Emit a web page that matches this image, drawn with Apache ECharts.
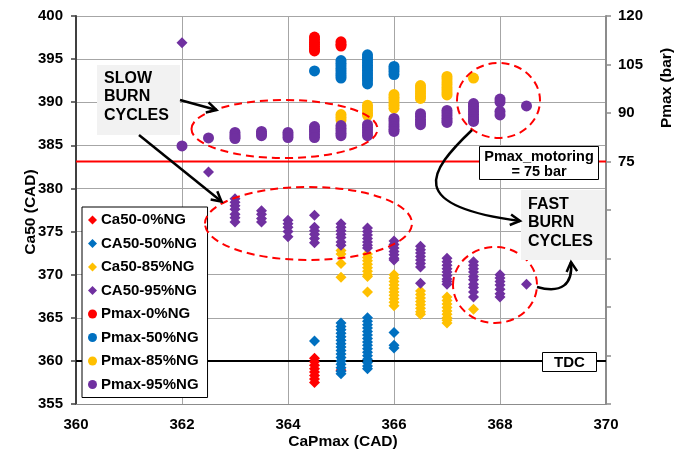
<!DOCTYPE html>
<html>
<head>
<meta charset="utf-8">
<script src="https://cdn.jsdelivr.net/npm/echarts@6/dist/echarts.min.js"></script>
<style>
  html, body { margin: 0; padding: 0; background: #fff; }
  #chart { width: 688px; height: 457px; }
</style>
</head>
<body>
<div id="chart"></div>
<script>
// CA50 (CAD) per cycle, grouped by crank angle of peak pressure (CAD)
const ca50NG0 = [
  [364.5, [360.3, 359.9, 359.5, 359.1, 358.7, 358.3, 357.9, 357.5]],
  [365, [358.9]]
];
const ca50NG50 = [
  [364.5, [362.3]],
  [365, [364.4, 364.0, 363.6, 363.2, 362.8, 362.4, 362.0, 361.6, 361.2, 360.8, 360.4, 360.0, 359.6, 359.2, 358.8, 358.5]],
  [365.5, [365.0, 364.6, 364.2, 363.8, 363.4, 363.0, 362.6, 362.2, 361.8, 361.4, 361.0, 360.6, 360.2, 359.8, 359.4, 359.1]],
  [366, [363.3, 361.8, 361.5]]
];
const ca50NG85 = [
  [365, [372.8, 372.4, 371.3, 369.7]],
  [365.5, [372.4, 372.0, 371.6, 371.2, 370.8, 370.4, 370.0, 369.8, 368.0]],
  [366, [370.0, 369.6, 369.2, 368.8, 368.4, 368.0, 367.6, 367.2, 366.8, 366.4]],
  [366.5, [368.1, 367.7, 367.3, 366.9, 366.5, 366.1, 365.7, 365.4]],
  [367, [367.4, 367.0, 366.6, 366.2, 365.8, 365.4, 365.0, 364.7, 364.4]],
  [367.5, [366.0]]
];
const ca50NG95 = [
  [362, [396.9]],
  [362.5, [381.9]],
  [363, [378.8, 378.4, 378.0, 377.6, 377.0, 376.6, 376.1]],
  [363.5, [377.4, 377.0, 376.5, 376.1]],
  [364, [376.3, 375.9, 375.5, 375.0, 374.4]],
  [364.5, [376.9, 375.5, 375.1, 374.7, 374.2, 373.7]],
  [365, [375.9, 375.5, 375.1, 374.7, 374.3, 373.8, 373.4]],
  [365.5, [375.4, 375.0, 374.6, 374.2, 373.8, 373.4, 373.1]],
  [366, [373.9, 373.5, 373.1, 372.7, 372.3, 371.9, 371.7]],
  [366.5, [373.3, 372.9, 372.5, 372.1, 371.7, 371.3, 370.9, 369.0]],
  [367, [371.9, 371.5, 371.1, 370.7, 370.3, 369.9, 369.5, 369.2, 368.9]],
  [367.5, [371.5, 371.1, 370.7, 370.3, 369.8, 369.4, 368.9, 368.5, 368.0, 367.4]],
  [368, [370.0, 369.6, 369.2, 368.8, 368.3, 367.8, 367.4]],
  [368.5, [368.9]]
];

// Peak pressure (bar) per cycle, grouped by crank angle of peak pressure (CAD)
const pmaxNG0 = [
  [364.5, [113.5, 112.7, 111.9, 111.2, 110.5, 109.8, 109.2]],
  [365, [112.0, 111.3, 110.7]]
];
const pmaxNG50 = [
  [364.5, [103.0]],
  [365, [106.2, 105.4, 104.6, 103.8, 103.0, 102.2, 101.5, 100.8]],
  [365.5, [108.0, 107.2, 106.4, 105.6, 104.8, 104.0, 103.2, 102.4, 101.6, 100.8, 100.0, 99.0]],
  [366, [104.4, 103.6, 102.8, 101.9]]
];
const pmaxNG85 = [
  [365, [89.5, 88.7, 87.8]],
  [365.5, [92.4, 91.6, 90.8, 90.0, 89.3]],
  [366, [95.7, 94.9, 94.1, 93.2, 92.4, 91.5]],
  [366.5, [98.5, 97.7, 96.8, 96.0, 95.2, 94.5]],
  [367, [101.3, 100.5, 99.6, 98.8, 97.9, 97.1, 96.3, 95.6]],
  [367.5, [100.8]]
];
const pmaxNG95 = [
  [362, [79.8]],
  [362.5, [82.3]],
  [363, [84.0, 83.2, 82.6, 82.1]],
  [363.5, [84.3, 83.6, 83.0]],
  [364, [84.0, 83.2, 82.4]],
  [364.5, [85.8, 85.0, 84.2, 83.3, 82.4]],
  [365, [86.1, 85.3, 84.5, 83.7, 83.0]],
  [365.5, [86.4, 85.6, 84.8, 83.9, 83.0]],
  [366, [88.3, 87.5, 86.6, 85.8, 85.0, 84.3]],
  [366.5, [89.8, 89.0, 88.1, 87.2, 86.4]],
  [367, [90.8, 90.0, 89.2, 88.4, 87.6, 87.1]],
  [367.5, [92.9, 92.1, 91.2, 90.4, 89.6, 88.8, 88.0, 87.4]],
  [368, [94.3, 93.4, 90.5, 89.4]],
  [368.5, [92.2]]
];

// Reference levels
const pmaxMotoring = 75;   // bar
const tdcAngle = 360;      // CAD

// Axis ranges
const xRange = [360, 370, 2];
const ca50Range = [355, 400, 5];
const pmaxRange = [0, 120, 15];
const pmaxLabelFrom = 75;

const seriesNames = [
  'Ca50-0%NG', 'CA50-50%NG', 'Ca50-85%NG', 'CA50-95%NG',
  'Pmax-0%NG', 'Pmax-50%NG', 'Pmax-85%NG', 'Pmax-95%NG'
];
const colors = ['#FF0000', '#0070C0', '#FFC000', '#7030A0'];

const expand = groups => groups.flatMap(([x, ys]) => ys.map(y => [x, y]));

const FONT = "'Liberation Sans', Arial, sans-serif";

function scatter(name, groups, color, symbol, axis) {
  return {
    name, type: 'scatter', yAxisIndex: axis,
    symbol, symbolSize: 11, z: 3,
    itemStyle: { color, opacity: 1 },
    emphasis: { disabled: true },
    data: expand(groups)
  };
}

const chart = echarts.init(document.getElementById('chart'), null, { renderer: 'canvas' });

// Dashed red ellipses, annotation boxes and arrows
const RED_DASH = { stroke: '#FF0000', lineWidth: 2, lineDash: [8, 5], fill: null };
function ellipse(cx, cy, rx, ry) {
  return { type: 'ellipse', z: 100, shape: { cx, cy, rx, ry }, style: RED_DASH, silent: true };
}
function head(tx, ty, fx, fy) {
  const a = Math.atan2(ty - fy, tx - fx), L = 11, w = 0.5;
  return {
    type: 'polyline', z: 101, silent: true,
    shape: { points: [
      [tx - L * Math.cos(a - w), ty - L * Math.sin(a - w)],
      [tx, ty],
      [tx - L * Math.cos(a + w), ty - L * Math.sin(a + w)]
    ] },
    style: { stroke: '#000', lineWidth: 2.5, fill: null }
  };
}
function straightArrow(x1, y1, x2, y2) {
  return [
    { type: 'line', z: 101, silent: true, shape: { x1, y1, x2, y2 }, style: { stroke: '#000', lineWidth: 2.5 } },
    head(x2, y2, x1, y1)
  ];
}
function curvedArrow(p0, c1, c2, p3) {
  return [
    { type: 'bezierCurve', z: 101, silent: true,
      shape: { x1: p0[0], y1: p0[1], cpx1: c1[0], cpy1: c1[1], cpx2: c2[0], cpy2: c2[1], x2: p3[0], y2: p3[1] },
      style: { stroke: '#000', lineWidth: 2.5, fill: null } },
    head(p3[0], p3[1], c2[0], c2[1])
  ];
}
function box(x, y, w, h, fill, border) {
  return { type: 'rect', z: 100, silent: true, shape: { x, y, width: w, height: h },
    style: { fill, stroke: border ? '#000' : null, lineWidth: border ? 1 : 0 } };
}
function label(text, x, y, size, align, extra) {
  return Object.assign({ type: 'text', z: 102, silent: true, x, y,
    style: { text, font: `bold ${size}px ${FONT}`, fill: '#000', align: align, verticalAlign: 'middle', lineHeight: 18.5 } }, extra || {});
}

const graphics = [
  ellipse(284.5, 129, 93, 29),
  ellipse(308.5, 223.5, 103.5, 36.5),
  ellipse(498.5, 100.5, 41.5, 37.5),
  ellipse(495, 285, 42, 38),
  box(97, 65, 83, 70, '#F2F2F2', false),
  label('SLOW\nBURN\nCYCLES', 104, 97, 16, 'left'),
  ...straightArrow(180, 100, 216.5, 110),
  ...straightArrow(139, 135, 221.5, 201.5),
  box(479.5, 146.5, 119, 33, '#FFFFFF', true),
  label('Pmax_motoring', 539, 156.5, 14.5, 'center'),
  label('= 75 bar', 539, 171.5, 14.5, 'center'),
  box(521, 190, 84, 70, '#F2F2F2', false),
  label('FAST\nBURN\nCYCLES', 528, 223, 16, 'left'),
  ...curvedArrow([472, 130], [428, 172], [405, 206], [520, 221]),
  ...curvedArrow([537, 287], [562, 294], [573, 284], [571, 262]),
  box(542.5, 352.5, 54, 19, '#FFFFFF', true),
  label('TDC', 569.5, 362.5, 15, 'center'),
  label('Ca50 (CAD)', 31, 212, 15.5, 'center', { rotation: Math.PI / 2 }),
  label('Pmax (bar)', 667, 88, 15.5, 'center', { rotation: Math.PI / 2 }),
  label('CaPmax (CAD)', 343, 442, 15.5, 'center')
];

const option = {
  animation: false,
  backgroundColor: '#FFFFFF',
  textStyle: { fontFamily: FONT },
  grid: { left: 76, right: 82, top: 16, bottom: 53, containLabel: false },
  legend: {
    data: seriesNames,
    orient: 'vertical', left: 82, top: 207,
    itemWidth: 9, itemHeight: 9, itemGap: 7.5,
    padding: [5, 9, 5, 6],
    backgroundColor: '#FFFFFF', borderColor: '#000', borderWidth: 1,
    selectedMode: false,
    textStyle: { fontFamily: FONT, fontWeight: 'bold', fontSize: 15, color: '#000', lineHeight: 16, padding: [0, 0, 0, -1] }
  },
  xAxis: {
    type: 'value', min: xRange[0], max: xRange[1], interval: xRange[2],
    axisLine: { show: true, lineStyle: { color: '#8c8c8c', width: 1 } },
    axisTick: { show: false },
    axisLabel: { fontWeight: 'bold', fontSize: 15, color: '#000', margin: 13, fontFamily: FONT },
    splitLine: { show: true, lineStyle: { color: '#A6A6A6', width: 1 } }
  },
  yAxis: [
    {
      type: 'value', position: 'left', min: ca50Range[0], max: ca50Range[1], interval: ca50Range[2],
      axisLine: { show: true, lineStyle: { color: '#404040', width: 2 } },
      axisTick: { show: true, length: 5, lineStyle: { color: '#404040', width: 1.5 } },
      axisLabel: { fontWeight: 'bold', fontSize: 15, color: '#000', margin: 13, fontFamily: FONT },
      splitLine: { show: true, lineStyle: { color: '#A6A6A6', width: 1 } }
    },
    {
      type: 'value', position: 'right', min: pmaxRange[0], max: pmaxRange[1], interval: pmaxRange[2],
      axisLine: { show: true, lineStyle: { color: '#8c8c8c', width: 2 } },
      axisTick: { show: true, length: 5, lineStyle: { color: '#8c8c8c', width: 1.5 } },
      axisLabel: {
        fontWeight: 'bold', fontSize: 15, color: '#000', margin: 12, fontFamily: FONT,
        formatter: v => (v >= pmaxLabelFrom ? String(v) : '')
      },
      splitLine: { show: false }
    }
  ],
  series: [
    {
      name: 'TDC', type: 'line', yAxisIndex: 0, z: 1, symbol: 'none', silent: true,
      lineStyle: { color: '#000', width: 2 },
      data: [[xRange[0], tdcAngle], [xRange[1], tdcAngle]]
    },
    {
      name: 'Pmax_motoring', type: 'line', yAxisIndex: 1, z: 1, symbol: 'none', silent: true,
      lineStyle: { color: '#FF0000', width: 2 },
      data: [[xRange[0], pmaxMotoring], [xRange[1], pmaxMotoring]]
    },
    scatter(seriesNames[0], ca50NG0, colors[0], 'diamond', 0),
    scatter(seriesNames[1], ca50NG50, colors[1], 'diamond', 0),
    scatter(seriesNames[2], ca50NG85, colors[2], 'diamond', 0),
    scatter(seriesNames[3], ca50NG95, colors[3], 'diamond', 0),
    scatter(seriesNames[4], pmaxNG0, colors[0], 'circle', 1),
    scatter(seriesNames[5], pmaxNG50, colors[1], 'circle', 1),
    scatter(seriesNames[6], pmaxNG85, colors[2], 'circle', 1),
    scatter(seriesNames[7], pmaxNG95, colors[3], 'circle', 1)
  ],
  graphic: { elements: graphics }
};

chart.setOption(option);
</script>
</body>
</html>
